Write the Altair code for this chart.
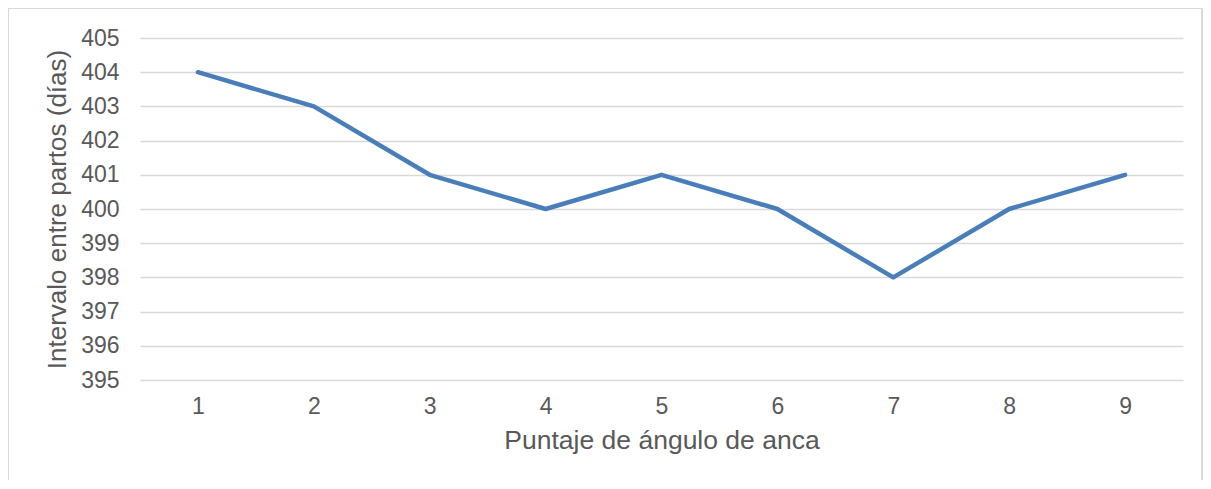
import altair as alt
import pandas as pd

categories = ["1", "2", "3", "4", "5", "6", "7", "8", "9"]
values = [404, 403, 401, 400, 401, 400, 398, 400, 401]

df = pd.DataFrame({"cat": categories, "val": values})

font = "Liberation Sans"

line = alt.Chart(df).mark_line(
    color="#4a7ebb", strokeWidth=4.5, strokeCap="round", strokeJoin="round"
).encode(
    x=alt.X("cat:N", sort=categories, scale=alt.Scale(paddingInner=0, paddingOuter=0.5),
            axis=alt.Axis(title="Puntaje de ángulo de anca", labelAngle=0, domain=False,
                          ticks=False, grid=False, labelPadding=15, labelFontSize=23,
                          titleFontSize=26.5, titlePadding=9, labelColor="#595959",
                          titleColor="#595959", labelFont=font, titleFont=font,
                          titleFontWeight="normal")),
    y=alt.Y("val:Q", scale=alt.Scale(domain=[395, 405], nice=False, zero=False),
            axis=alt.Axis(title="Intervalo entre partos (días)", values=list(range(395, 406)),
                          domain=False, ticks=False, grid=True, gridColor="#d9d9d9",
                          gridWidth=1.5, labelPadding=21, labelFontSize=23,
                          titleFontSize=26, titlePadding=10, labelColor="#595959",
                          titleColor="#595959", labelFont=font, titleFont=font,
                          titleFontWeight="normal")),
)

border = alt.Chart(df).mark_rect(
    fill=None, stroke="#d9d9d9", strokeWidth=2, clip=False
).encode(
    x=alt.value(-132), x2=alt.value(1062), y=alt.value(-30), y2=alt.value(520)
)

chart = alt.layer(border, line).properties(
    width=1043, height=342,
    autosize=alt.AutoSizeParams(type="none"),
    padding={"left": 132, "top": 30, "right": 20, "bottom": 100},
    background="white",
).configure_view(stroke=None)

chart.save("out.html", embed_options={"renderer": "svg", "actions": False})
